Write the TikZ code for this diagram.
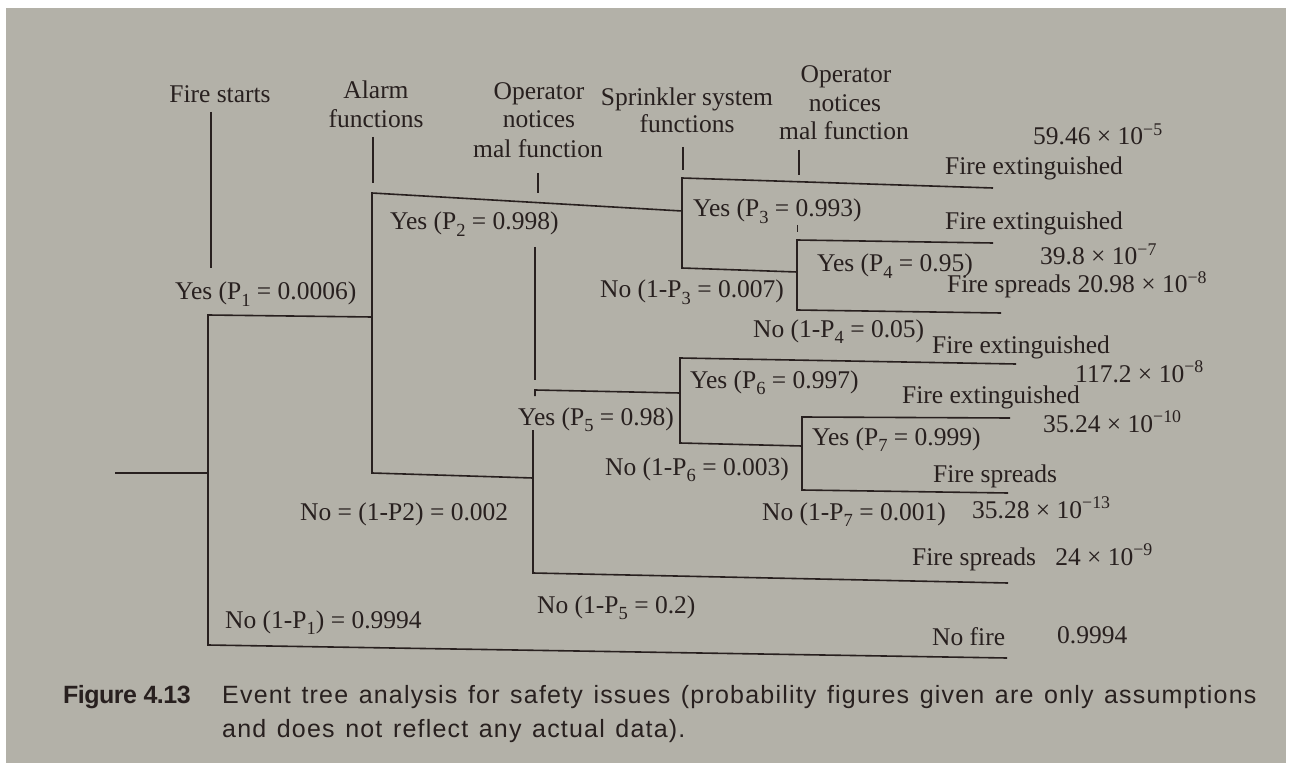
\documentclass[tikz,border=0pt]{standalone}
\usepackage{fontspec}
\setmainfont{Liberation Serif}
\newfontfamily\capfont[LetterSpace=4.8,WordSpace=1.3]{Liberation Sans}
\newfontfamily\capbold[LetterSpace=-2]{Liberation Sans Bold}
\definecolor{page}{RGB}{179,177,168}
\definecolor{ink}{RGB}{40,32,31}
\newcommand{\tenpow}[2]{#1 × 10\textsuperscript{−#2}}
\newcommand{\psub}[1]{\raisebox{-0.27em}{\fontsize{18.5}{18.5}\selectfont #1}}
\begin{document}
\begin{tikzpicture}[x=1pt,y=-1pt,
  branch/.style={line width=1.6pt,draw=ink,line join=miter},
  tick/.style={line width=1.5pt,draw=ink},
  lbl/.style={font=\fontsize{25.5}{30}\selectfont,text=ink,inner sep=0pt,anchor=base west},
  hdr/.style={font=\fontsize{25.5}{30}\selectfont,text=ink,inner sep=0pt,anchor=base},
  captext/.style={font=\capfont\fontsize{25}{30}\selectfont,text=ink,inner sep=0pt,anchor=base west}]
\useasboundingbox (0,0) rectangle (1290,767);
\fill[white] (0,0) rectangle (1290,767);
\fill[page] (6,8) rectangle (1286,763);

% ---- branch points of the event tree ----
\coordinate (root) at (115,473);
\coordinate (f1) at (208,473);
\coordinate (f1t) at (208,315);
\coordinate (f1b) at (208,645);
\coordinate (enofire) at (1007,658);
\coordinate (f2t) at (372,193);
\coordinate (f2m) at (372,317);
\coordinate (f2b) at (372,473);
\coordinate (f3t) at (682,178);
\coordinate (f3m) at (682,211);
\coordinate (f3b) at (682,268);
\coordinate (e1) at (993,188);
\coordinate (f4t) at (797,240);
\coordinate (f4m) at (797,272);
\coordinate (f4b) at (797,310);
\coordinate (e2) at (993,243);
\coordinate (e3) at (1001,313);
\coordinate (f5t) at (535,390);
\coordinate (f5s) at (535,396);
\coordinate (f5u) at (533,430);
\coordinate (f5m) at (533,478);
\coordinate (f5b) at (533,573);
\coordinate (e7) at (1008,583);
\coordinate (f6t) at (680,358);
\coordinate (f6m) at (680,393);
\coordinate (f6b) at (680,443);
\coordinate (e4) at (1016,364);
\coordinate (f7t) at (802,417);
\coordinate (f7m) at (802,446);
\coordinate (f7b) at (802,490);
\coordinate (e5) at (1010,418);
\coordinate (e6) at (1008,493);
\coordinate (opa) at (535,247);
\coordinate (opb) at (535,380);

% ---- branches ----
\draw[branch] (root) -- (f1);
\draw[branch] (f2m) -- (f1t) -- (f1b) -- (enofire);
\draw[branch] (f3m) -- (f2t) -- (f2b) -- (f5m);
\draw[branch] (e1) -- (f3t) -- (f3b) -- (f4m);
\draw[branch] (e2) -- (f4t) -- (f4b) -- (e3);
\draw[branch] (f6m) -- (f5t) -- (f5s);
\draw[branch] (f5u) -- (f5b) -- (e7);
\draw[branch] (opa) -- (opb);
\draw[branch] (e4) -- (f6t) -- (f6b) -- (f7m);
\draw[branch] (e5) -- (f7t) -- (f7b) -- (e6);

% ---- column headings ----
\node[hdr] (h1) at (220,103) {Fire starts};
\node[hdr] (h2a) at (376,99) {Alarm};
\node[hdr] (h2b) at (376,128) {functions};
\node[hdr] (h3a) at (539,100) {Operator};
\node[hdr] (h3b) at (539,128) {notices};
\node[hdr] (h3c) at (538,158) {mal function};
\node[hdr] (h4a) at (687,106) {Sprinkler system};
\node[hdr] (h4b) at (687,133) {functions};
\node[hdr] (h5a) at (846,83) {Operator};
\node[hdr] (h5b) at (845,112) {notices};
\node[hdr] (h5c) at (844,140) {mal function};

% ---- heading ticks ----
\coordinate (t1a) at (211,112); \coordinate (t1b) at (211,268);
\coordinate (t2a) at (373,137); \coordinate (t2b) at (373,183);
\coordinate (t3a) at (538,173); \coordinate (t3b) at (538,193);
\coordinate (t4a) at (683,147); \coordinate (t4b) at (683,170);
\coordinate (t5a) at (799,150); \coordinate (t5b) at (799,175);
\coordinate (t6a) at (797,225); \coordinate (t6b) at (797,232);
\draw[tick] (t1a) -- (t1b);
\draw[tick] (t2a) -- (t2b);
\draw[tick] (t3a) -- (t3b);
\draw[tick] (t4a) -- (t4b);
\draw[tick] (t5a) -- (t5b);
\draw[tick,line width=1pt] (t6a) -- (t6b);

% ---- branch probabilities ----
\node[lbl] (p1y) at (175,300) {Yes (P\psub{1} = 0.0006)};
\node[lbl] (p1n) at (225,628) {No (1-P\psub{1}) = 0.9994};
\node[lbl] (p2y) at (390,230) {Yes (P\psub{2} = 0.998)};
\node[lbl] (p2n) at (300,520) {No = (1-P2) = 0.002};
\node[lbl] (p3y) at (693,217) {Yes (P\psub{3} = 0.993)};
\node[lbl] (p3n) at (600,298) {No (1-P\psub{3} = 0.007)};
\node[lbl] (p4y) at (817,272) {Yes (P\psub{4} = 0.95)};
\node[lbl] (p4n) at (753,337) {No (1-P\psub{4} = 0.05)};
\node[lbl] (p5y) at (518,425) {Yes (P\psub{5} = 0.98)};
\node[lbl] (p5n) at (537,613) {No (1-P\psub{5} = 0.2)};
\node[lbl] (p6y) at (690,388) {Yes (P\psub{6} = 0.997)};
\node[lbl] (p6n) at (605,475) {No (1-P\psub{6} = 0.003)};
\node[lbl] (p7y) at (812,445) {Yes (P\psub{7} = 0.999)};
\node[lbl] (p7n) at (762,520) {No (1-P\psub{7} = 0.001)};

% ---- outcomes ----
\node[lbl] (o1v) at (1033,145) {\tenpow{59.46}{5}};
\node[lbl] (o1) at (945,175) {Fire extinguished};
\node[lbl] (o2) at (945,230) {Fire extinguished};
\node[lbl] (o2v) at (1040,265) {\tenpow{39.8}{7}};
\node[lbl] (o3) at (947,293) {Fire spreads \tenpow{20.98}{8}};
\node[lbl] (o4) at (932,353) {Fire extinguished};
\node[lbl] (o4v) at (1075,382) {\tenpow{117.2}{8}};
\node[lbl] (o5) at (902,403) {Fire extinguished};
\node[lbl] (o5v) at (1043,432) {\tenpow{35.24}{10}};
\node[lbl] (o6) at (933,482) {Fire spreads};
\node[lbl] (o6v) at (972,518) {\tenpow{35.28}{13}};
\node[lbl] (o7) at (912,565) {Fire spreads \enspace\tenpow{24}{9}};
\node[lbl] (o8) at (932,645) {No fire};
\node[lbl] (o8v) at (1057,643) {0.9994};

% ---- caption ----
\node[captext,font=\capbold\fontsize{25}{30}\selectfont] (fig) at (63,703) {Figure 4.13};
\node[captext] (c1) at (222,703) {Event tree analysis for safety issues (probability figures given are only assumptions};
\node[captext] (c2) at (222,737) {and does not reflect any actual data).};
\end{tikzpicture}
\end{document}
